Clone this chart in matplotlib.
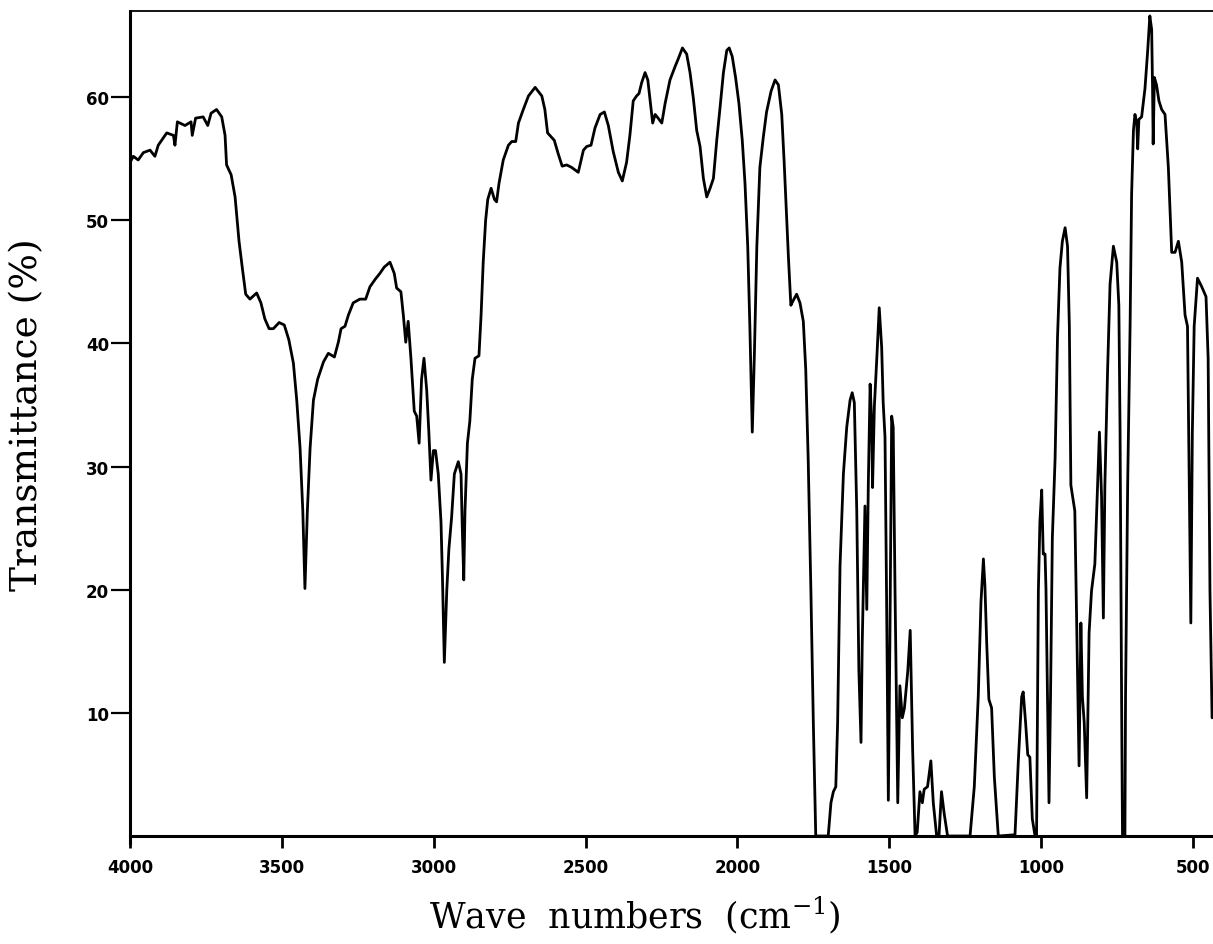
import matplotlib
matplotlib.use("Agg")
import matplotlib.pyplot as plt

# ---- data ----
wavenumber = [
    4000, 3989, 3973, 3956, 3934, 3918, 3907, 3879, 3857, 3852, 3844, 3819, 3799, 3795, 3784, 3759,
    3744, 3733, 3715, 3698, 3687, 3682, 3667, 3654, 3641, 3630, 3619, 3605, 3583, 3569, 3556, 3542,
    3528, 3509, 3492, 3477, 3462, 3451, 3440, 3431, 3424, 3416, 3407, 3396, 3382, 3363, 3347, 3327,
    3314, 3305,
    3292, 3281, 3265, 3243, 3224, 3210, 3193, 3177, 3163, 3144, 3130, 3122, 3108, 3100, 3092, 3084,
    3075, 3064, 3056, 3048, 3040, 3032, 3023, 3016, 3009, 3001, 2994, 2985, 2976, 2971, 2965, 2957,
    2950, 2941, 2932, 2919, 2910, 2906, 2901, 2897, 2889, 2881, 2873, 2864, 2851, 2844, 2837, 2829,
    2822, 2811, 2800, 2793, 2785, 2771, 2754, 2743, 2730, 2721, 2705, 2688, 2666, 2644, 2634, 2625,
    2603, 2590, 2577, 2562,
    2546, 2524, 2507, 2496, 2482, 2469, 2452, 2438, 2425, 2409, 2392, 2379, 2365, 2354, 2343, 2332,
    2324, 2315, 2304, 2295, 2288, 2279, 2271, 2261, 2249, 2238, 2222, 2205, 2195, 2181, 2167, 2156,
    2145, 2134, 2123, 2112, 2101, 2090, 2079, 2068, 2057, 2046, 2035, 2027, 2017, 2006, 1995, 1984,
    1975, 1966, 1959, 1951, 1944, 1936, 1926, 1915, 1904, 1889, 1876, 1865, 1854, 1846,
    1832, 1824, 1816, 1805, 1794, 1783, 1775, 1767, 1758, 1750, 1742, 1701, 1692, 1684, 1676, 1670,
    1662, 1651, 1640, 1629, 1622, 1615, 1607, 1600, 1593, 1589, 1584, 1580, 1574, 1569, 1563, 1558,
    1555, 1549, 1541, 1533, 1525, 1520, 1514, 1509, 1503, 1498, 1492, 1487, 1481, 1472, 1465, 1457,
    1450, 1439, 1431, 1423, 1415, 1408, 1399, 1391, 1385, 1374, 1363, 1355, 1344, 1336, 1328, 1319,
    1308, 1234, 1220, 1207, 1198, 1190, 1185, 1179, 1172, 1163, 1154, 1141,
    1086, 1075, 1064, 1059, 1051, 1044, 1037, 1029, 1020, 1015, 1009, 1004, 998, 993, 987, 984,
    979, 974, 969, 963, 954, 946, 938, 930, 921, 913, 907, 902, 894, 889, 883, 875,
    869, 864, 858, 850, 842, 834, 823, 814, 808, 801, 795, 790, 781, 773, 762, 751,
    744, 740, 735, 732, 724, 722, 715, 707, 702, 696, 691, 685, 682, 678, 669, 658,
    649, 642, 636, 633, 631, 627, 620, 612, 603, 592, 581, 570, 559, 548, 537, 526,
    518, 510, 507, 502, 496, 485, 471, 457, 450, 444, 437,
]
transmittance = [
    54.7, 55.2, 54.9, 55.5, 55.7, 55.2, 56.1, 57.1, 56.9, 56.1, 58.0, 57.7, 58.0, 56.9, 58.3, 58.4,
    57.7, 58.7, 59.0, 58.4, 56.9, 54.5, 53.7, 51.9, 48.3, 46.1, 44.0, 43.6, 44.1, 43.3, 42.0, 41.2,
    41.2, 41.7, 41.5, 40.3, 38.4, 35.4, 31.5, 26.4, 20.1, 26.4, 31.5, 35.4, 37.1, 38.5, 39.2, 38.9,
    40.1, 41.2,
    41.4, 42.3, 43.3, 43.6, 43.6, 44.6, 45.2, 45.7, 46.2, 46.6, 45.7, 44.5, 44.2, 42.3, 40.1, 41.8,
    38.8, 34.5, 34.1, 31.9, 37.1, 38.8, 36.2, 32.8, 28.9, 31.3, 31.3, 29.4, 25.5, 20.8, 14.1, 19.9,
    23.3, 25.9, 29.4, 30.4, 29.4, 25.1, 20.8, 26.4, 31.9, 33.7, 37.1, 38.8, 39.0, 42.3, 46.6, 50.0,
    51.7, 52.6, 51.7, 51.5, 53.0, 54.9, 56.1, 56.4, 56.4, 57.9, 59.0, 60.1, 60.8, 60.1, 59.0, 57.1,
    56.5, 55.4, 54.4, 54.5,
    54.3, 53.9, 55.7, 56.0, 56.1, 57.5, 58.6, 58.8, 57.7, 55.6, 53.9, 53.2, 54.7, 56.9, 59.7, 60.1,
    60.3, 61.2, 62.0, 61.4, 59.9, 57.9, 58.6, 58.3, 57.9, 59.5, 61.4, 62.5, 63.1, 64.0, 63.5, 62.0,
    59.9, 57.3, 56.0, 53.4, 51.9, 52.6, 53.4, 56.5, 59.2, 62.0, 63.8, 64.0, 63.3, 61.6, 59.5, 56.5,
    53.0, 47.9, 41.4, 32.8, 39.2, 47.9, 54.3, 56.7, 58.8, 60.5, 61.4, 61.0, 58.6, 54.7,
    47.0, 43.1, 43.5, 44.0, 43.3, 41.8, 37.9, 30.7, 19.9, 9.2, 0.0, 0.0, 2.7, 3.6, 4.0, 9.2,
    22.0, 29.4, 33.2, 35.4, 36.0, 35.2, 26.4, 13.4, 7.6, 15.6, 22.0, 26.8, 18.4, 28.5, 36.7, 33.7,
    28.3, 34.9, 38.8, 42.9, 39.7, 35.2, 32.4, 19.9, 2.9, 15.6, 34.1, 33.2, 19.9, 2.7, 12.2, 9.6,
    10.4, 13.4, 16.7, 7.0, 0.0, 0.3, 3.6, 2.7, 3.8, 4.0, 6.1, 2.7, 0.0, 0.1, 3.6, 1.8,
    0.0, 0.0, 4.0, 11.3, 19.0, 22.5, 20.3, 15.6, 11.1, 10.4, 4.8, 0.0,
    0.1, 6.1, 11.3, 11.7, 9.2, 6.6, 6.4, 1.4, 0.0, 0.0, 19.9, 25.5, 28.1, 22.9, 22.9, 20.1,
    11.3, 2.7, 11.3, 24.2, 30.6, 40.5, 46.1, 48.3, 49.4, 47.9, 41.4, 28.5, 27.2, 26.4, 17.7, 5.7,
    17.3, 11.3, 9.2, 3.1, 16.5, 19.9, 22.1, 28.5, 32.8, 27.6, 17.7, 28.5, 37.9, 44.8, 47.9, 46.6,
    43.1, 32.8, 11.3, 0.0, 0.0, 11.3, 28.5, 41.4, 52.1, 57.3, 58.6, 57.9, 55.8, 58.2, 58.4, 60.7,
    63.8, 66.6, 65.5, 60.7, 56.2, 61.6, 61.0, 59.7, 59.0, 58.6, 54.3, 47.4, 47.4, 48.3, 46.6, 42.3,
    41.4, 24.2, 17.3, 32.8, 41.4, 45.3, 44.6, 43.8, 38.8, 19.9, 9.6,
]
x_ticks = [4000, 3500, 3000, 2500, 2000, 1500, 1000, 500]
y_ticks = [10, 20, 30, 40, 50, 60]
x_label = r"Wave  numbers  (cm$^{-1}$)"
y_label = "Transmittance (%)"

plt.rcParams["mathtext.fontset"] = "dejavuserif"

W, H = 1213, 945
fig = plt.figure(figsize=(W / 100, H / 100), dpi=100)
ax = fig.add_axes([130 / W, 1 - 837 / H, 1 - 130 / W, (837 - 12) / H])

ax.plot(wavenumber, transmittance, color="black", lw=2.0,
        solid_joinstyle="round", solid_capstyle="round")

ax.set_xlim(4000, 434)
ax.set_ylim(0, 67)
ax.set_xticks(x_ticks)
ax.set_yticks(y_ticks)

ax.spines["right"].set_visible(False)
ax.spines["left"].set_linewidth(2.2)
ax.spines["bottom"].set_linewidth(2.2)
ax.spines["top"].set_linewidth(1.3)
ax.spines["left"].set_bounds(-0.6, 67)

ax.tick_params(axis="x", direction="out", length=8.5, width=2.0, pad=7,
               labelsize=12)
ax.tick_params(axis="y", direction="out", length=14, width=1.6, pad=1,
               labelsize=12)
for lab in ax.get_xticklabels() + ax.get_yticklabels():
    lab.set_fontweight("bold")
    lab.set_family("DejaVu Sans")

fig.text(635 / W, 1 - 915 / H, x_label, ha="center", va="center",
         fontsize=25, family="DejaVu Serif")
fig.text(27 / W, 1 - 415 / H, y_label, ha="center", va="center",
         rotation=90, fontsize=27, family="DejaVu Serif")

fig.savefig("out.png", dpi=100)
